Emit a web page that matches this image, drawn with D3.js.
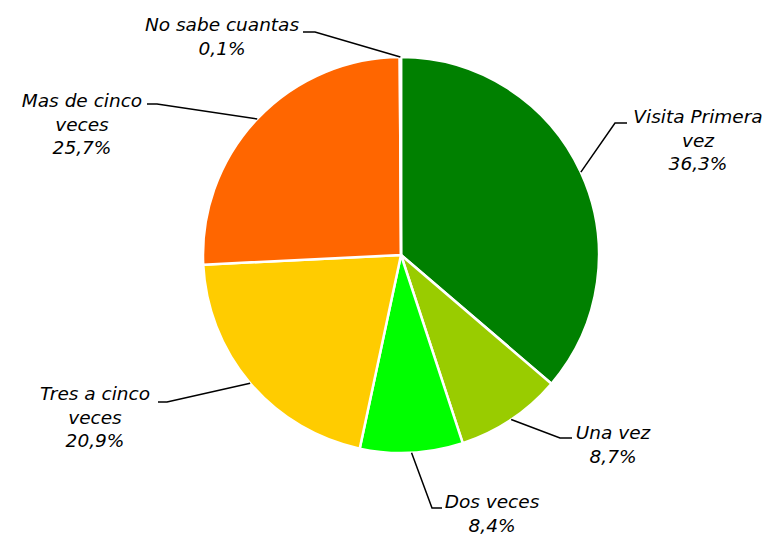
<!DOCTYPE html>
<html>
<head>
<meta charset="utf-8">
<script src="https://cdn.jsdelivr.net/npm/d3@7"></script>
<style>
  html, body { margin: 0; padding: 0; background: #fff; }
  svg text { font-family: "DejaVu Sans", sans-serif; font-style: italic; font-size: 18.5px; fill: #000; }
</style>
</head>
<body>
<svg id="chart" width="771" height="535"></svg>
<script>
// Visitas: número de veces
const categories = ["Visita Primera vez", "Una vez", "Dos veces", "Tres a cinco veces", "Mas de cinco veces", "No sabe cuantas"];
const values = [36.3, 8.7, 8.4, 20.9, 25.7, 0.1];
const valueLabels = ["36,3%", "8,7%", "8,4%", "20,9%", "25,7%", "0,1%"];
const colors = ["#008000", "#99cc00", "#00ff00", "#ffcc00", "#ff6600", "#3366ff"];

// Label text lines and leader-line placement (elbow, end, text anchor)
const labelLines = [
  ["Visita Primera", "vez"],
  ["Una vez"],
  ["Dos veces"],
  ["Tres a cinco", "veces"],
  ["Mas de cinco", "veces"],
  ["No sabe cuantas"]
];
const labelLayout = [
  { elbow: [615, 123], end: [627, 123], tx: 698, ty: 123, anchor: "middle" },
  { elbow: [560, 438], end: [572, 438], tx: 613, ty: 439, anchor: "middle" },
  { elbow: [432, 508], end: [442, 508], tx: 492, ty: 508, anchor: "middle" },
  { elbow: [167, 402], end: [158, 402], tx: 95, ty: 400, anchor: "middle" },
  { elbow: [157, 104], end: [147, 104], tx: 82, ty: 107, anchor: "middle" },
  { elbow: [315, 32], end: [303, 32], tx: 222, ty: 31, anchor: "middle" }
];

const cx = 401, cy = 255, radius = 198;
const svg = d3.select("#chart");
const g = svg.append("g").attr("transform", `translate(${cx},${cy})`);

const pie = d3.pie().sort(null).value(d => d);
const arcs = pie(values);
const arc = d3.arc().innerRadius(0).outerRadius(radius);

g.selectAll("path.slice")
  .data(arcs)
  .join("path")
  .attr("class", "slice")
  .attr("d", arc)
  .attr("fill", (d, i) => colors[i])
  .attr("stroke", "#fff")
  .attr("stroke-width", 2.5)
  .attr("stroke-linejoin", "round");

// Leader lines from the slice edge at its mid angle
const line = d3.line();
arcs.forEach((d, i) => {
  const a = (d.startAngle + d.endAngle) / 2;
  const p0 = [cx + radius * Math.sin(a), cy - radius * Math.cos(a)];
  const L = labelLayout[i];
  svg.append("path")
    .attr("d", line([p0, L.elbow, L.end]))
    .attr("fill", "none")
    .attr("stroke", "#000")
    .attr("stroke-width", 1.5);

  const lines = labelLines[i].concat([valueLabels[i]]);
  const t = svg.append("text")
    .attr("text-anchor", L.anchor)
    .attr("x", L.tx)
    .attr("y", L.ty);
  lines.forEach((s, k) => {
    t.append("tspan")
      .attr("x", L.tx)
      .attr("y", L.ty + k * 23.5)
      .text(s);
  });
});
</script>
</body>
</html>
